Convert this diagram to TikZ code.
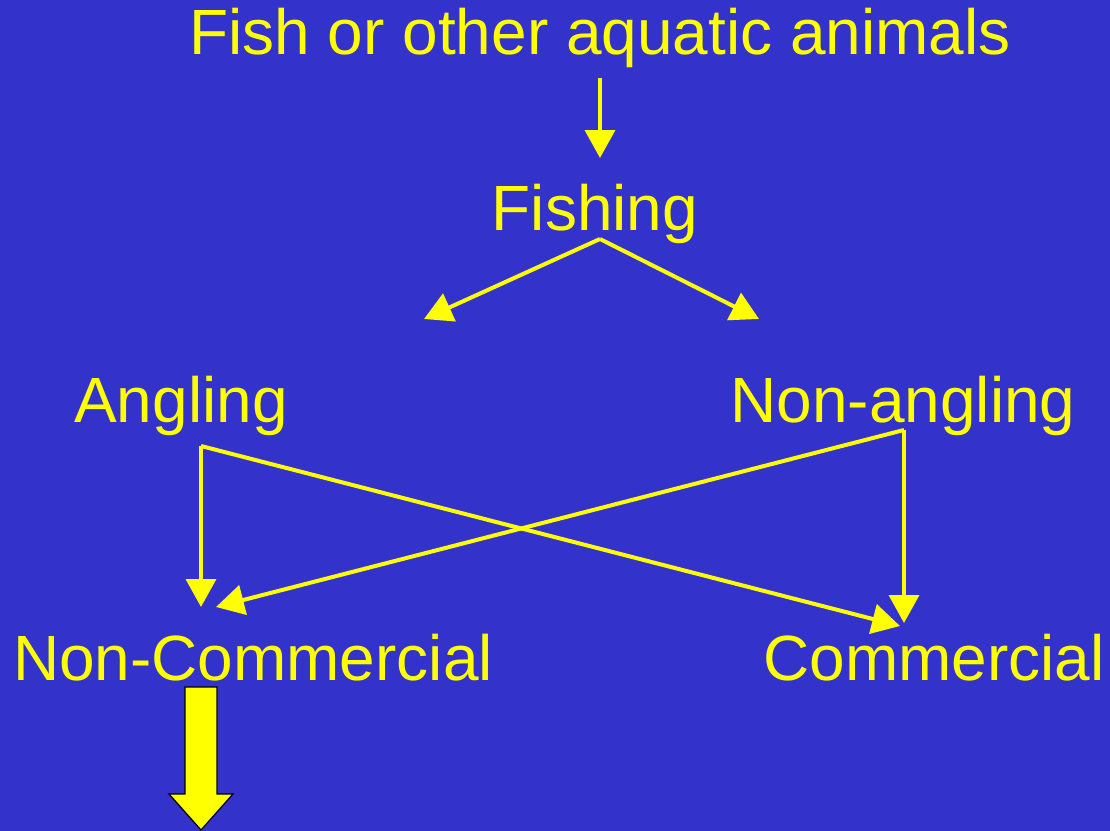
\documentclass[tikz,border=0pt]{standalone}
\usepackage{fontspec}
\setmainfont{Liberation Sans}
\usepackage{xcolor}
\usepackage{tikz}
\usetikzlibrary{arrows.meta,positioning,backgrounds}
\definecolor{slideblue}{RGB}{51,51,204}
\definecolor{slideyellow}{RGB}{255,255,0}
\tikzset{
  % slide text
  lbl/.style={text=slideyellow,inner sep=0pt,anchor=base,font=\fontsize{36.4}{40}\selectfont},
  % connectors
  flowedge/.style={line width=2.27pt,slideyellow,-{Triangle[length=15.9pt,width=17pt]}},
  % block arrow
  blockarrow/.style={fill=slideyellow,draw=black,line width=0.7pt,line join=miter},
}

\begin{document}
\begin{tikzpicture}[x=0.02cm,y=-0.02cm]
\fill[slideblue] (0,0) rectangle (1110,831);
\useasboundingbox (0,0) rectangle (1110,831);

%% ---- text ----
\node[lbl] (title) at (600,55)  {Fish or other aquatic animals};
\node[lbl] (fish)  at (595,231) {Fishing};
\node[lbl] (angl)  at (181,423) {Angling};
\node[lbl] (nonangl) at (903,423) {Non-angling};
\node[lbl] (noncomm) at (253,680) {Non-Commercial};
\node[lbl] (comm)  at (934,680) {Commercial};

%% ---- connector ends ----
\coordinate (titlefoot) at (600,78);
\coordinate (fishtop)   at (600,158);
\coordinate (fishfork)  at (600,239);
\coordinate (leftend)   at (424,319);
\coordinate (rightend)  at (759,319);
\coordinate (anglfork)  at (201,446);
\coordinate (nonafork)  at (904,430);
\coordinate (ncvert)    at (201,607);
\coordinate (ncdiag)    at (216,607);
\coordinate (cvert)     at (904,623);
\coordinate (cdiag)     at (900,626);

%% ---- arrows ----
\draw[flowedge] (titlefoot) -- (fishtop);
\draw[flowedge] (fishfork) -- (leftend);
\draw[flowedge] (fishfork) -- (rightend);
\draw[flowedge] (anglfork) -- (ncvert);
\draw[flowedge] (anglfork) -- (cdiag);
\draw[flowedge] (nonafork) -- (cvert);
\draw[flowedge] (nonafork) -- (ncdiag);

%% ---- block arrow ----
\draw[blockarrow] (185,687) -- (217,687) -- (217,794) -- (233,794)
  -- (201,830) -- (169,794) -- (185,794) -- cycle;
\end{tikzpicture}
\end{document}
